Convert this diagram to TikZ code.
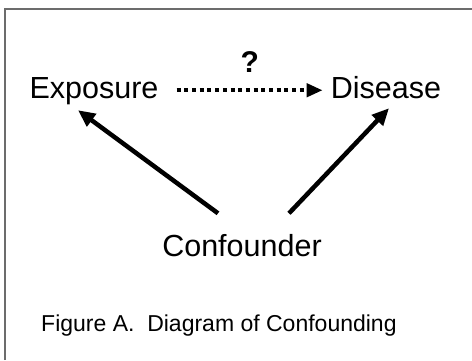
\documentclass[tikz,border=0pt]{standalone}
\usepackage{fontspec}
\setmainfont{Liberation Sans}
\usetikzlibrary{arrows.meta}

\begin{document}
\begin{tikzpicture}[x=1pt,y=-1pt,>={Triangle[length=17pt,width=15pt]},
	term/.style={inner sep=0pt,font=\fontsize{30.5}{36}\selectfont,text height=21.5pt,text depth=6pt},
	causal/.style={line width=4.5pt,->},
	dotlink/.style={line width=4pt,dash pattern=on 4pt off 3.7pt,-{Triangle[length=16pt,width=13pt]}}]
	
	\useasboundingbox (0,0) rectangle (472,360);
	
	% Draw the frame (top and left sides only)
	\draw[line width=1.5pt,gray!85!black] (5,360) -- (5,9) -- (472,9);
	
	% Draw the three variables
	\node[term,anchor=base] (expo) at (94,98) {Exposure};
	\node[term,anchor=base] (dis) at (386,98) {Disease};
	\node[term,anchor=base] (conf) at (242,256) {Confounder};
	
	% Draw the questioned link
	\draw[dotlink] ([xshift=18pt]expo.east) -- ([xshift=-8pt]dis.west)
		node[midway,above=12pt,font=\fontsize{30}{36}\selectfont\bfseries] (ask) {?};
	
	% Draw the confounding paths
	\draw[causal] ([xshift=-24pt,yshift=21pt]conf.north) -- ([xshift=-16pt,yshift=-6pt]expo.south);
	\draw[causal] ([xshift=47pt,yshift=21pt]conf.north) -- ([xshift=3pt,yshift=-4pt]dis.south);
	
	% Draw the caption
	\node[anchor=base west,inner sep=0pt,font=\fontsize{23}{27}\selectfont] (cap) at (41,331) {Figure A.\ \ Diagram of Confounding};

\end{tikzpicture}
\end{document}
